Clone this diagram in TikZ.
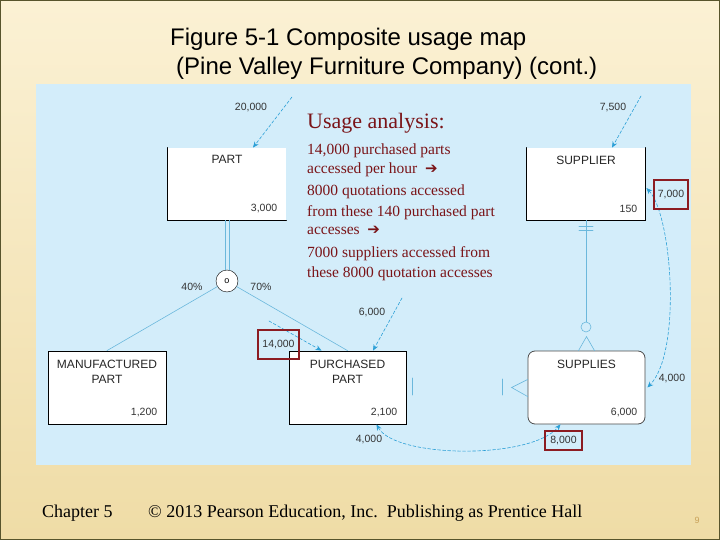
\documentclass[tikz,border=0pt]{standalone}
\usepackage{fontspec}
\setmainfont{Liberation Serif}
\setsansfont{Liberation Sans}
\newfontfamily\symfont{DejaVu Sans}
\usetikzlibrary{arrows.meta,positioning}
\definecolor{panelblue}{HTML}{D3EDFA}
\definecolor{flowblue}{HTML}{2B9FD6}
\definecolor{linkblue}{HTML}{6BB8DC}
\definecolor{boxred}{HTML}{8C1C22}
\definecolor{notered}{HTML}{7A1418}
\definecolor{slidetop}{HTML}{FBF1D4}
\definecolor{slidebot}{HTML}{EFDCA6}
\definecolor{pagegold}{HTML}{C9A25A}

\tikzset{
  entity/.style={fill=white,minimum width=118pt,minimum height=73pt,inner sep=0pt,line width=0.8pt},
  ename/.style={font=\sffamily\fontsize{12}{15}\selectfont,align=center,text=black!85},
  enum/.style={font=\sffamily\fontsize{10.5}{12}\selectfont,anchor=east,text=black!80,inner sep=0pt},
  flow/.style={flowblue,line width=0.6pt,dash pattern=on 3pt off 2pt,-{Stealth[length=6pt,width=5pt]}},
  flowboth/.style={flow,{Stealth[length=6pt,width=5pt]}-{Stealth[length=6pt,width=5pt]}},
  flowlbl/.style={font=\sffamily\fontsize{10.5}{12}\selectfont,text=black!80},
  hot/.style={draw=boxred,line width=1.6pt,inner sep=0pt},
  link/.style={linkblue,line width=0.6pt},
  note/.style={text=notered,anchor=base west,font=\fontsize{15.5}{18}\selectfont,inner sep=0pt},
}

\begin{document}
\begin{tikzpicture}[x=1pt,y=-1pt,line cap=round]
\useasboundingbox (0,0) rectangle (720,540);
\shade[top color=slidetop,bottom color=slidebot] (0,0) rectangle (720,540);
\draw[olive!50!black,line width=1pt] (0.5,0.5) rectangle (719.5,539.5);
\fill[panelblue] (36,84) rectangle (691,465);

% title
\node[anchor=base west,inner sep=0pt,font=\sffamily\fontsize{24}{28}\selectfont] (title) at (170,46) {Figure 5-1 Composite usage map};
\node[anchor=base west,inner sep=0pt,font=\sffamily\fontsize{24}{28}\selectfont] (subtitle) at (176,75) {(Pine Valley Furniture Company) (cont.)};

% entities
\node[entity,minimum height=72pt] (part) at (227,184) {};
\draw[line width=0.8pt] (part.north west) -- (part.south west) -- (part.south east);
\node[entity,minimum height=72pt] (supplier) at (586,184) {};
\draw[line width=0.8pt] (supplier.north west) -- (supplier.south west) -- (supplier.south east) -- (supplier.north east);
\node[entity,draw] (mfg) at (107,387.5) {};
\node[entity,draw,minimum width=117pt] (pur) at (347.5,387.5) {};
\node[entity,draw=black!70,minimum width=117pt,rounded corners=7pt] (supplies) at (586.5,387.5) {};

\node[ename] (partname) at ([yshift=-12pt]part.north) {PART};
\node[enum] (partnum) at ([xshift=-9pt,yshift=12pt]part.south east) {3,000};
\node[ename] (suppliername) at ([yshift=-13pt]supplier.north) {SUPPLIER};
\node[enum] (suppliernum) at ([xshift=-8pt,yshift=12pt]supplier.south east) {150};
\node[ename] (mfgname) at ([yshift=-21pt]mfg.north) {MANUFACTURED\\PART};
\node[enum] (mfgnum) at ([xshift=-9pt,yshift=12pt]mfg.south east) {1,200};
\node[ename] (purname) at ([yshift=-21pt]pur.north) {PURCHASED\\PART};
\node[enum] (purnum) at ([xshift=-9pt,yshift=12pt]pur.south east) {2,100};
\node[ename] (suppliesname) at ([yshift=-14pt]supplies.north) {SUPPLIES};
\node[enum] (suppliesnum) at ([xshift=-8pt,yshift=12pt]supplies.south east) {6,000};

% subtype
\node[circle,draw,fill=white,minimum size=22pt,inner sep=0pt,font=\sffamily\fontsize{9}{9}\selectfont] (sub) at (227,281) {o};
\draw[linkblue,line width=0.7pt] ([xshift=-2pt]part.south) -- ([xshift=-2pt]sub.north);
\draw[linkblue,line width=0.7pt] ([xshift=2pt]part.south) -- ([xshift=2pt]sub.north);
\draw[link] (sub) -- (mfg.north);
\draw[link] (sub) -- (pur.north);
\node[flowlbl] (pctmfg) at (192,287) {40\%};
\node[flowlbl] (pctpur) at (261,287) {70\%};

% supplier - supplies
\node[circle,draw=linkblue,fill=panelblue,minimum size=10pt,inner sep=0pt,line width=0.6pt] (opt) at (586,327) {};
\draw[link] (supplier.south) -- (opt.north);
\draw[link] ([xshift=-7pt,yshift=-6pt]supplier.south) -- ([xshift=7pt,yshift=-6pt]supplier.south);
\draw[link] ([xshift=-7pt,yshift=-10pt]supplier.south) -- ([xshift=7pt,yshift=-10pt]supplier.south);
\coordinate (foot) at ([yshift=14pt]supplies.north);
\draw[link] ([xshift=-8pt]supplies.north) -- (foot) -- ([xshift=8pt]supplies.north);

% purchased part - supplies
\draw[link] ([xshift=6pt,yshift=9.5pt]pur.east) -- ([xshift=6pt,yshift=-7.5pt]pur.east);
\draw[link] ([xshift=-25pt,yshift=8.5pt]supplies.west) -- ([xshift=-25pt,yshift=-7.5pt]supplies.west);
\coordinate (sfoot) at ([xshift=-16pt]supplies.west);
\draw[link] ([yshift=8pt]supplies.west) -- (sfoot) -- ([yshift=-9pt]supplies.west);

% access flows
\coordinate (in20) at (292,97);
\draw[flow] (in20) -- ([xshift=26pt]part.north);
\node[flowlbl] (l20) at (251,108) {20,000};
\coordinate (in75) at (641,96);
\draw[flow] (in75) -- ([xshift=26pt]supplier.north);
\node[flowlbl] (l75) at (613,108) {7,500};
\coordinate (in60) at (402,298);
\draw[flow] (in60) -- ([xshift=25.5pt]pur.north);
\node[flowlbl] (l60) at (372,313) {6,000};
\coordinate (in14) at (269,321);
\draw[flow] (in14) -- ([xshift=-26pt]pur.north);
\node[hot,flowlbl,minimum width=41pt,minimum height=29pt] (l14) at (278.5,344.5) {14,000};
\draw[flowboth] ([xshift=29pt]pur.south) .. controls (395,458) and (530,460) .. ([xshift=-26pt]supplies.south);
\node[flowlbl] (l40) at (369,440) {4,000};
\node[hot,flowlbl,minimum width=37pt,minimum height=19pt] (l80) at (563.5,440.5) {8,000};
\draw[flowboth] ([xshift=1pt,yshift=-4pt]supplier.east) .. controls (672,215) and (682,352) .. ([xshift=2pt]supplies.east);
\node[hot,flowlbl,minimum width=34pt,minimum height=29pt] (l70) at (671,194.5) {7,000};
\node[flowlbl] (l40r) at (672,379) {4,000};

% usage analysis
\node[note,font=\fontsize{22}{26}\selectfont] (usage) at (307,129) {Usage analysis:};
\node[note] (u1) at (307,155) {14,000 purchased parts};
\node[note] (u2) at (307,174) {accessed per hour\ \ {\symfont\bfseries\fontsize{15}{15}\selectfont ➔}};
\node[note] (u3) at (307,196) {8000 quotations accessed};
\node[note] (u4) at (307,216) {from these 140 purchased part};
\node[note] (u5) at (307,235) {accesses\ \ {\symfont\bfseries\fontsize{15}{15}\selectfont ➔}};
\node[note] (u6) at (307,258) {7000 suppliers accessed from};
\node[note] (u7) at (307,277) {these 8000 quotation accesses};

% footer
\node[anchor=base west,inner sep=0pt,font=\fontsize{18}{20}\selectfont] (chap) at (42,517) {Chapter 5};
\node[anchor=base west,inner sep=0pt,font=\fontsize{18}{20}\selectfont] (copy) at (148,517) {\textcopyright{} 2013 Pearson Education, Inc.\ \ Publishing as Prentice Hall};
\node[font=\sffamily\fontsize{9}{10}\selectfont,text=pagegold] (pg) at (697,520) {9};
\end{tikzpicture}
\end{document}
